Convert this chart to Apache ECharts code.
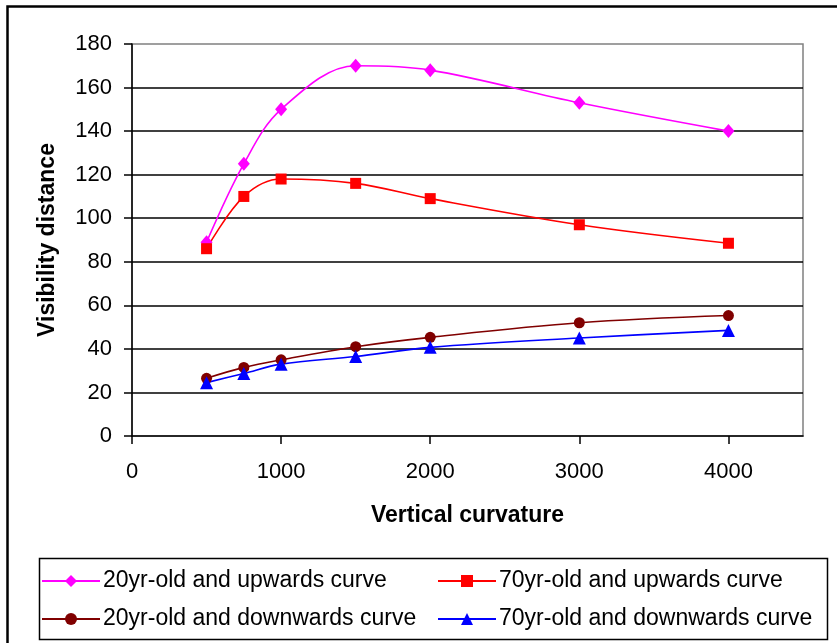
<!DOCTYPE html>
<html>
<head>
<meta charset="utf-8">
<script src="https://cdn.jsdelivr.net/npm/echarts@6/dist/echarts.min.js"></script>
<style>
  html, body { margin: 0; padding: 0; background: #fff; }
  #chart { width: 837px; height: 643px; }
</style>
</head>
<body>
<div id="chart"></div>
<script>
// Vertical curvature values (x) shared by all four curves
const curvature = [500, 750, 1000, 1500, 2000, 3000, 4000];

// Visibility distance per driver group and curve direction
const youngUpwards   = [89, 125, 150, 170, 168, 153, 140];
const oldUpwards     = [86, 110, 118, 116, 109, 97, 88.5];
const youngDownwards = [26.5, 31.5, 35, 41, 45.3, 52, 55.3];
const oldDownwards   = [24.5, 28.7, 33, 36.5, 40.7, 45, 48.5];

const seriesNames = [
  '20yr-old and upwards curve',
  '70yr-old and upwards curve',
  '20yr-old and downwards curve',
  '70yr-old and downwards curve'
];

const xTicks = [0, 1000, 2000, 3000, 4000];

const FONT = '"Liberation Sans", Arial, sans-serif';

function pairs(values) {
  return curvature.map((c, i) => [c, values[i]]);
}

function lineSeries(name, values, color, symbol, size) {
  return {
    name: name,
    type: 'line',
    data: pairs(values),
    smooth: 0.35,
    symbol: symbol,
    symbolSize: size,
    showSymbol: true,
    lineStyle: { color: color, width: 1.6 },
    itemStyle: { color: color, borderWidth: 0 },
    emphasis: { disabled: true },
    z: 3
  };
}

function legendAt(name, left, top) {
  return {
    data: [name],
    left: left,
    top: top,
    padding: 0,
    itemWidth: 58,
    itemHeight: 15,
    selectedMode: false,
    textStyle: { fontFamily: FONT, fontSize: 23, color: '#000', lineHeight: 26, padding: [0, 0, 0, -2] }
  };
}

const chart = echarts.init(document.getElementById('chart'), null, { renderer: 'canvas' });

chart.setOption({
  animation: false,
  backgroundColor: '#fff',
  textStyle: { fontFamily: FONT },
  grid: {
    left: 132, top: 44, right: 34, bottom: 207,
    show: true, borderColor: '#808080', borderWidth: 1.5,
    containLabel: false
  },
  xAxis: {
    type: 'value',
    min: 0, max: 4500, interval: 1000,
    name: 'Vertical curvature',
    nameLocation: 'middle',
    nameGap: 68,
    nameTextStyle: { fontFamily: FONT, fontSize: 23, fontWeight: 'bold', color: '#000' },
    axisLine: { show: true, onZero: false, lineStyle: { color: '#000', width: 1.5 } },
    axisTick: { show: true, inside: false, length: 8, customValues: xTicks, lineStyle: { color: '#000', width: 1.5 } },
    axisLabel: {
      show: true, customValues: xTicks, margin: 25,
      fontFamily: FONT, fontSize: 22, color: '#000',
      formatter: (v) => String(v)
    },
    splitLine: { show: false }
  },
  yAxis: {
    type: 'value',
    min: 0, max: 180, interval: 20,
    name: 'Visibility distance',
    nameLocation: 'middle',
    nameGap: 73,
    nameRotate: 90,
    nameTextStyle: { fontFamily: FONT, fontSize: 23, fontWeight: 'bold', color: '#000' },
    axisLine: { show: true, lineStyle: { color: '#000', width: 1.5 } },
    axisTick: { show: true, inside: false, length: 8, lineStyle: { color: '#000', width: 1.5 } },
    axisLabel: { margin: 20, fontFamily: FONT, fontSize: 22, color: '#000' },
    splitLine: { show: true, showMaxLine: false, showMinLine: false, lineStyle: { color: '#000', width: 1.5 } }
  },
  legend: [
    legendAt(seriesNames[0], 41, 568),
    legendAt(seriesNames[1], 437, 568),
    legendAt(seriesNames[2], 41, 606),
    legendAt(seriesNames[3], 437, 606)
  ],
  graphic: [
    {
      type: 'rect', left: 5, top: 4, silent: true, z: 0,
      shape: { width: 840, height: 650 },
      style: { fill: null, stroke: '#000', lineWidth: 2.5 }
    },
    {
      type: 'rect', left: 37, top: 556, silent: true, z: 0,
      shape: { width: 788, height: 81 },
      style: { fill: null, stroke: '#000', lineWidth: 1.5 }
    }
  ],
  series: [
    lineSeries(seriesNames[0], youngUpwards, '#FF00FF', 'diamond', [12, 14]),
    lineSeries(seriesNames[1], oldUpwards, '#FF0000', 'rect', 11),
    lineSeries(seriesNames[2], youngDownwards, '#800000', 'circle', 11),
    lineSeries(seriesNames[3], oldDownwards, '#0000FF', 'triangle', 13)
  ]
});
</script>
</body>
</html>
